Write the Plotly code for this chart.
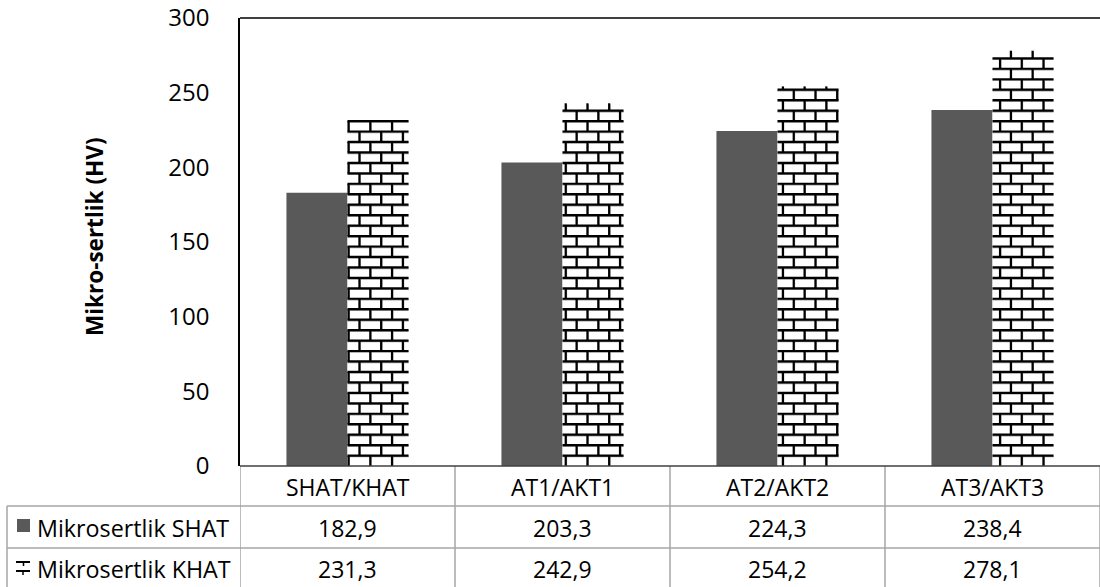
import plotly.graph_objects as go

# Data
categories = ["SHAT/KHAT", "AT1/AKT1", "AT2/AKT2", "AT3/AKT3"]
series_names = ["Mikrosertlik SHAT", "Mikrosertlik KHAT"]
shat_values = [182.9, 203.3, 224.3, 238.4]
khat_values = [231.3, 242.9, 254.2, 278.1]
y_ticks = [0, 50, 100, 150, 200, 250, 300]

# Layout geometry (pixels)
W, H = 1100, 587
L, R, T, B = 240, 0, 18, 121
plot_w = W - L - R
plot_h = H - T - B
y_max = 300
bar_w = 0.284            # bar width in category units
brick_h = 7.0            # brick course height in value units
brick_w = 0.101          # brick length in category units
FONT = "Open Sans"
DARK = "#595959"
GRID = "#a6a6a6"


def py_to_paper(py):
    return (H - B - py) / plot_h


def px_to_paper(px):
    return (px - L) / plot_w


fig = go.Figure()
xs = list(range(len(categories)))

fig.add_trace(go.Bar(x=[i - bar_w / 2 for i in xs], y=shat_values, width=bar_w,
                     marker=dict(color=DARK, line=dict(width=0)), name=series_names[0]))
fig.add_trace(go.Bar(x=[i + bar_w / 2 for i in xs], y=khat_values, width=bar_w,
                     marker=dict(color="white", line=dict(width=0)), name=series_names[1]))

# Brick fill for the KHAT bars, built from each bar's value
bx, by = [], []
sx, sy = [], []
shade = 0.7
for i, v in zip(xs, khat_values):
    x0, x1 = i, i + bar_w
    k = 0
    y = 0.0
    while y < v:
        top = min(y + brick_h, v)
        # mortar line at the course top
        if y + brick_h < v:
            bx += [x0, x1, None]
            by += [y + brick_h, y + brick_h, None]
            sx += [x0, x1, None]
            sy += [y + brick_h - shade, y + brick_h - shade, None]
        # vertical joints, offset every other course
        off = (brick_w / 2) if k % 2 else 0.0
        jx = -0.5 + off
        while jx < x1:
            if jx > x0 + 0.004:
                bx += [jx, jx, None]
                by += [y, top, None]
                sx += [jx + 0.003, jx + 0.003, None]
                sy += [y, top - shade, None]
            jx += brick_w
        y += brick_h
        k += 1

fig.add_trace(go.Scatter(x=sx, y=sy, mode="lines", line=dict(color="#9a9a9a", width=1.5),
                         hoverinfo="skip", showlegend=False))
fig.add_trace(go.Scatter(x=bx, y=by, mode="lines", line=dict(color="black", width=2.2),
                         hoverinfo="skip", showlegend=False))

shapes = []
annotations = []

# top frame line
shapes.append(dict(type="line", xref="paper", yref="paper", x0=0, x1=1, y0=1, y1=1,
                   line=dict(color="black", width=1.5)))

# data table below the plot
row_y = [466, 506, 548, 600]
left_px = 7
tbl_line = dict(color=GRID, width=1.5)
for yy in row_y[1:3]:
    shapes.append(dict(type="line", xref="paper", yref="paper",
                       x0=px_to_paper(left_px), x1=1, y0=py_to_paper(yy), y1=py_to_paper(yy),
                       line=tbl_line))
for b in [i - 0.5 for i in xs] + [len(xs) - 0.5]:
    shapes.append(dict(type="line", xref="x", yref="paper", x0=b, x1=b,
                       y0=py_to_paper(row_y[0]), y1=py_to_paper(row_y[-1]), line=tbl_line))
shapes.append(dict(type="line", xref="paper", yref="paper",
                   x0=px_to_paper(left_px), x1=px_to_paper(left_px),
                   y0=py_to_paper(row_y[1]), y1=py_to_paper(row_y[-1]), line=tbl_line))

# x axis baseline
shapes.append(dict(type="line", xref="paper", yref="paper", x0=0, x1=1, y0=0, y1=0,
                   line=dict(color="#404040", width=1.5)))


def fmt(v):
    return f"{v:.1f}".replace(".", ",")


def cell(x, yc, text, size, xref="x", xanchor="center"):
    return dict(x=x, y=py_to_paper(yc), xref=xref, yref="paper", text=text,
                showarrow=False, xanchor=xanchor, yanchor="middle",
                font=dict(family=FONT, size=size, color="black"))


header_c = 487
r1_c = 528
r2_c = 569
for i, c in zip(xs, categories):
    annotations.append(cell(i, header_c, c, 23))
for i, v in zip(xs, shat_values):
    annotations.append(cell(i, r1_c, fmt(v), 23))
for i, v in zip(xs, khat_values):
    annotations.append(cell(i, r2_c, fmt(v), 23))

# legend keys inside the table
for name, yc in zip(series_names, [r1_c, r2_c]):
    annotations.append(cell(px_to_paper(35), yc, name, 23.3, xref="paper", xanchor="left"))
shapes.append(dict(type="rect", xref="paper", yref="paper",
                   x0=px_to_paper(17), x1=px_to_paper(30),
                   y0=py_to_paper(532), y1=py_to_paper(519),
                   fillcolor=DARK, line=dict(width=0)))
key_lines = [(16, 562, 30, 562, 2), (23.5, 562, 23.5, 566, 1.5),
             (16, 571, 30, 571, 2), (23, 571, 23, 575, 1.5)]
for xa, ya, xb, yb, lw in key_lines:
    shapes.append(dict(type="line", xref="paper", yref="paper",
                       x0=px_to_paper(xa), x1=px_to_paper(xb),
                       y0=py_to_paper(ya), y1=py_to_paper(yb),
                       line=dict(color="black", width=lw)))

fig.update_layout(
    width=W, height=H,
    margin=dict(l=L, r=R, t=T, b=B, pad=0),
    paper_bgcolor="white", plot_bgcolor="white",
    showlegend=False, barmode="overlay",
    font=dict(family=FONT, size=24, color="black"),
    xaxis=dict(range=[-0.5, len(xs) - 0.5], showticklabels=False, showgrid=False,
               zeroline=False, showline=False, ticks=""),
    yaxis=dict(range=[0, y_max], tickvals=y_ticks, showgrid=False, zeroline=False,
               showline=True, linecolor="black", linewidth=1.5, ticks="",
               ticklabeloverflow="allow",
               ticklabelstandoff=24, tickfont=dict(family=FONT, size=24, color="black")),
    shapes=shapes,
    annotations=annotations + [dict(
        x=px_to_paper(94), y=py_to_paper(237), xref="paper", yref="paper",
        xanchor="center", yanchor="middle",
        text="<b>Mikro-sertlik (HV)</b>", textangle=-90, showarrow=False,
        font=dict(family=FONT, size=22.5, color="black"))],
)

fig.write_html("out.html")
